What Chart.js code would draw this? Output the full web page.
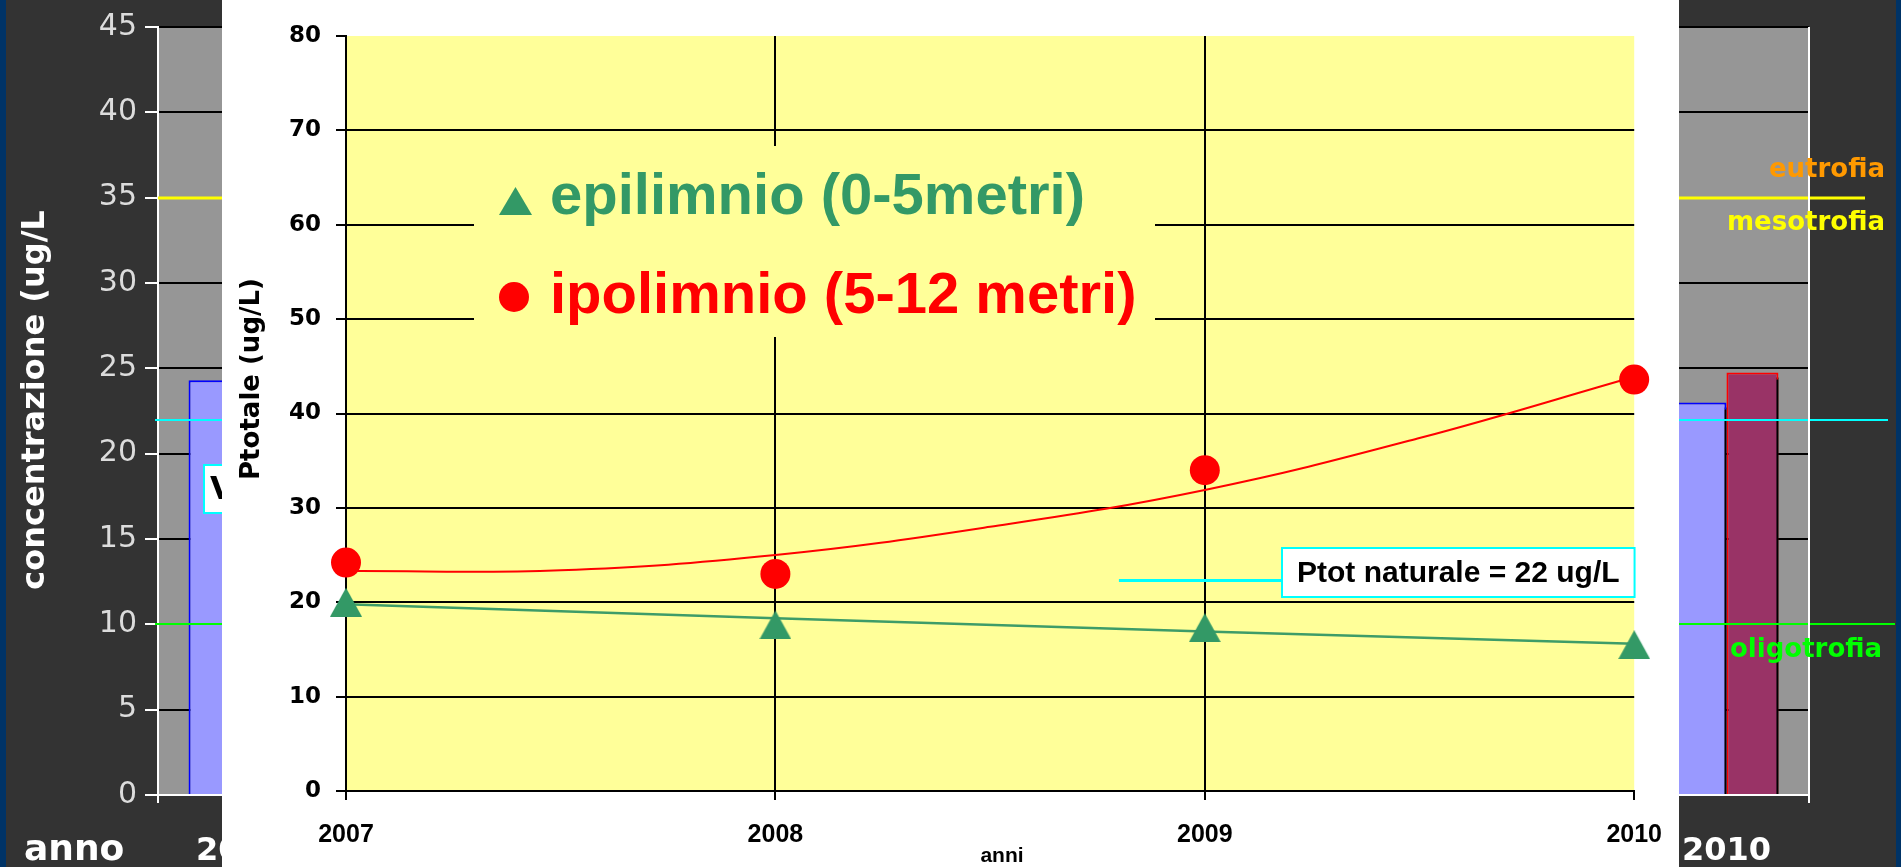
<!DOCTYPE html>
<html>
<head>
<meta charset="utf-8">
<title>Ptotale</title>
<script src="https://cdn.jsdelivr.net/npm/chart.js@4.4.1/dist/chart.umd.min.js"></script>
<style>
  body { margin: 0; background: #333333; overflow: hidden; }
  #bg { position: absolute; left: 0; top: 0; }
  #panel { position: absolute; left: 222px; top: 0; width: 1457px; height: 867px; background: #ffffff; overflow: hidden; }
</style>
</head>
<body>
<canvas id="bg" width="1901" height="867"></canvas>
<div id="panel"><canvas id="chart" width="1460" height="867"></canvas></div>
<script>
// background chart (mostly hidden behind the panel)
const bgYears = ["2001", "2002", "2003", "2004", "2005", "2006", "2007", "2008", "2009", "2010"]
const bgEpilimnio = [24.3, null, null, null, null, null, null, null, null, 23.0]
const bgIpolimnio = [null, null, null, null, null, null, null, null, null, 24.75]
const eutrofiaLimit = 35
const naturaleLimit = 22
const oligotrofiaLimit = 10

// front chart
const years = [2007, 2008, 2009, 2010]
const epilimnio = [20.0, 17.6, 17.3, 15.5]
const ipolimnio = [24.2, 23.0, 34.0, 43.6]
const epiTrend = [19.8, 18.3, 16.9, 15.6]
const trendYears = [2007, 2007.5, 2008, 2008.5, 2009, 2009.5, 2010]
const ipoTrend = [23.3, 23.4, 25.0, 28.0, 31.9, 37.4, 43.9]
const naturaleYears = [2008.8, 2009.18]
const naturaleValue = 22.3
const naturaleText = "Ptot naturale = 22 ug/L"

const GREEN = "#339966"
const RED = "#ff0000"

const bgDecor = {
    id: "bgDecor",
    beforeDraw(chart) {
        const { ctx, chartArea: a } = chart
        ctx.save()
        ctx.fillStyle = "#333333"
        ctx.fillRect(0, 0, chart.width, chart.height)
        ctx.fillStyle = "#003366"
        ctx.fillRect(0, 0, 6, chart.height)
        ctx.fillRect(1896, 0, 5, chart.height)
        ctx.fillStyle = "#969696"
        ctx.fillRect(a.left, a.top, a.right - a.left, a.bottom - a.top)
        ctx.restore()
    },
    beforeDatasetsDraw(chart) {
        const ctx = chart.ctx
        ctx.save()
        ctx.shadowColor = "#000000"
        ctx.shadowOffsetX = 6
        ctx.shadowOffsetY = 5
        ctx.shadowBlur = 0
    },
    afterDatasetsDraw(chart) {
        const { ctx, chartArea: a } = chart
        const y = chart.scales.y
        ctx.restore()
        ctx.save()

        const hline = (v, x0, x1, color, w) => {
            ctx.strokeStyle = color
            ctx.lineWidth = w
            ctx.beginPath()
            ctx.moveTo(x0, Math.round(y.getPixelForValue(v)))
            ctx.lineTo(x1, Math.round(y.getPixelForValue(v)))
            ctx.stroke()
        }
        hline(eutrofiaLimit, a.left, 1865, "#ffff00", 3)
        hline(naturaleLimit, 155, 1888, "#00ffff", 2)
        hline(oligotrofiaLimit, 155, 1895, "#00ff00", 2)

        // right frame
        ctx.strokeStyle = "#ffffff"
        ctx.lineWidth = 2
        ctx.beginPath()
        ctx.moveTo(a.right, a.top)
        ctx.lineTo(a.right, a.bottom + 8)
        ctx.stroke()

        ctx.font = 'bold 26px "DejaVu Sans"'
        ctx.textAlign = "right"
        ctx.fillStyle = "#ff9900"
        ctx.fillText("eutrofia", 1885, y.getPixelForValue(eutrofiaLimit) - 21)
        ctx.fillStyle = "#ffff00"
        ctx.fillText("mesotrofia", 1885, y.getPixelForValue(eutrofiaLimit) + 32)
        ctx.textAlign = "left"
        ctx.fillStyle = "#00ff00"
        ctx.fillText("oligotrofia", 1730, y.getPixelForValue(oligotrofiaLimit) + 33)

        // label box peeking out from behind the panel
        ctx.fillStyle = "#ffffff"
        ctx.fillRect(204, 465, 80, 48)
        ctx.strokeStyle = "#00ffff"
        ctx.lineWidth = 2
        ctx.strokeRect(204, 465, 80, 48)
        ctx.fillStyle = "#000000"
        ctx.font = 'bold 32px "DejaVu Sans"'
        ctx.fillText("V", 210, 499)

        ctx.fillStyle = "#ffffff"
        ctx.font = 'bold 36px "DejaVu Sans"'
        ctx.fillText("anno", 24, 860)

        ctx.translate(44, 400)
        ctx.rotate(-Math.PI / 2)
        ctx.textAlign = "center"
        ctx.font = 'bold 32px "DejaVu Sans"'
        ctx.fillText("concentrazione (ug/L", 0, 0)
        ctx.restore()
    }
}

new Chart(document.getElementById("bg"), {
    type: "bar",
    data: {
        labels: bgYears,
        datasets: [
            { data: bgEpilimnio, backgroundColor: "#9999ff", borderColor: "#0000ff", borderWidth: 2, categoryPercentage: 0.63, barPercentage: 1 },
            { data: bgIpolimnio, backgroundColor: "#993366", borderColor: "#ff0000", borderWidth: 2, categoryPercentage: 0.63, barPercentage: 1 }
        ]
    },
    options: {
        responsive: false,
        animation: false,
        events: [],
        layout: { padding: { left: 0, right: 92, top: 27, bottom: 0 } },
        plugins: { legend: { display: false }, tooltip: { enabled: false } },
        scales: {
            x: {
                grid: { offset: true, drawOnChartArea: false, color: "#ffffff", lineWidth: 2, tickLength: 8 },
                border: { color: "#ffffff", width: 2 },
                ticks: { color: "#ffffff", font: { family: "DejaVu Sans", weight: "bold", size: 32 }, padding: 29, maxRotation: 0, autoSkip: false },
                afterFit: (s) => { s.height = 72 }
            },
            y: {
                min: 0, max: 45,
                ticks: { stepSize: 5, color: "#dcdcdc", font: { family: "DejaVu Sans", size: 30 }, padding: 8 },
                grid: { color: "#000000", lineWidth: 2, tickColor: "#ffffff", tickLength: 13 },
                border: { color: "#ffffff", width: 2 },
                afterFit: (s) => { s.width = 158 }
            }
        }
    },
    plugins: [bgDecor]
})

const triangleMarker = (w, h, color) => {
    const c = document.createElement("canvas")
    c.width = w
    c.height = h
    const g = c.getContext("2d")
    g.fillStyle = color
    g.beginPath()
    g.moveTo(w / 2, 0)
    g.lineTo(w, h)
    g.lineTo(0, h)
    g.closePath()
    g.fill()
    return c
}

const fgDecor = {
    id: "fgDecor",
    beforeDraw(chart) {
        const { ctx, chartArea: a } = chart
        ctx.save()
        ctx.fillStyle = "#ffff99"
        ctx.fillRect(a.left, a.top, a.right - a.left, a.bottom - a.top)
        ctx.restore()
    },
    beforeDatasetsDraw(chart) {
        // legend sits on the plot, over the grid
        const ctx = chart.ctx
        ctx.save()
        ctx.fillStyle = "#ffff99"
        ctx.fillRect(252, 146, 681, 191)
        ctx.drawImage(triangleMarker(33, 28, GREEN), 277, 187)
        ctx.fillStyle = RED
        ctx.beginPath()
        ctx.arc(292, 297, 15, 0, Math.PI * 2)
        ctx.fill()
        ctx.font = 'bold 58px "Liberation Sans"'
        ctx.fillStyle = GREEN
        ctx.fillText("epilimnio (0-5metri)", 328, 214)
        ctx.fillStyle = RED
        ctx.fillText("ipolimnio (5-12 metri)", 328, 313)
        ctx.restore()
    },
    afterDatasetsDraw(chart) {
        const { ctx, chartArea: a } = chart
        const x = chart.scales.x
        const y = chart.scales.y
        ctx.save()
        ctx.font = 'bold 30px "Liberation Sans"'
        const tw = ctx.measureText(naturaleText).width
        const bx = Math.round(x.getPixelForValue(naturaleYears[1]))
        const by = Math.round(y.getPixelForValue(naturaleValue)) - 33
        ctx.fillStyle = "#ffffff"
        ctx.fillRect(bx, by, tw + 30, 49)
        ctx.strokeStyle = "#00ffff"
        ctx.lineWidth = 2
        ctx.strokeRect(bx, by, tw + 30, 49)
        ctx.fillStyle = "#000000"
        ctx.textBaseline = "middle"
        ctx.fillText(naturaleText, bx + 15, by + 26)

        ctx.textBaseline = "alphabetic"
        ctx.textAlign = "center"
        ctx.font = 'bold 21px "Liberation Sans"'
        ctx.fillText("anni", 780, 862)

        ctx.translate(37, 379)
        ctx.rotate(-Math.PI / 2)
        ctx.font = 'bold 26px "DejaVu Sans"'
        ctx.fillText("Ptotale (ug/L)", 0, 0)
        ctx.restore()
    }
}

const points = (xs, ys) => xs.map((v, i) => ({ x: v, y: ys[i] }))

new Chart(document.getElementById("chart"), {
    type: "line",
    data: {
        datasets: [
            { label: "ipolimnio (5-12 metri)", data: points(years, ipolimnio), showLine: false, pointStyle: "circle", pointRadius: 15, backgroundColor: RED, borderColor: RED, pointBorderWidth: 0, clip: false },
            { label: "epilimnio (0-5metri)", data: points(years, epilimnio), showLine: false, pointStyle: triangleMarker(32, 29, GREEN), pointRadius: 16, clip: false },
            { data: points(naturaleYears, [naturaleValue, naturaleValue]), borderColor: "#00ffff", borderWidth: 3, pointRadius: 0 },
            { data: points(trendYears, ipoTrend), borderColor: RED, borderWidth: 2, pointRadius: 0, tension: 0.4 },
            { data: points(years, epiTrend), borderColor: "#3d9c68", borderWidth: 2.5, pointRadius: 0 }
        ]
    },
    options: {
        responsive: false,
        animation: false,
        events: [],
        layout: { padding: { left: 0, right: 42, top: 36, bottom: 0 } },
        plugins: { legend: { display: false }, tooltip: { enabled: false } },
        scales: {
            x: {
                type: "linear",
                min: 2007, max: 2010,
                ticks: { stepSize: 1, callback: (v) => String(v), color: "#000000", font: { family: "Liberation Sans", weight: "bold", size: 25 }, padding: 20, maxRotation: 0 },
                grid: {
                    color: (c) => (c.tick && c.tick.value > 2007 && c.tick.value < 2010) ? "#000000" : "rgba(0,0,0,0)",
                    tickColor: "#000000", lineWidth: 2, tickLength: 9
                },
                border: { color: "#000000", width: 2 },
                afterFit: (s) => { s.height = 76 }
            },
            y: {
                min: 0, max: 80,
                ticks: { stepSize: 10, color: "#000000", font: { family: "DejaVu Sans", weight: "bold", size: 23 }, padding: 15 },
                grid: {
                    color: (c) => (c.tick && c.tick.value > 0 && c.tick.value < 80) ? "#000000" : "rgba(0,0,0,0)",
                    tickColor: "#000000", lineWidth: 2, tickLength: 10
                },
                border: { color: "#000000", width: 2 },
                afterFit: (s) => { s.width = 124 }
            }
        }
    },
    plugins: [fgDecor]
})
</script>
</body>
</html>
